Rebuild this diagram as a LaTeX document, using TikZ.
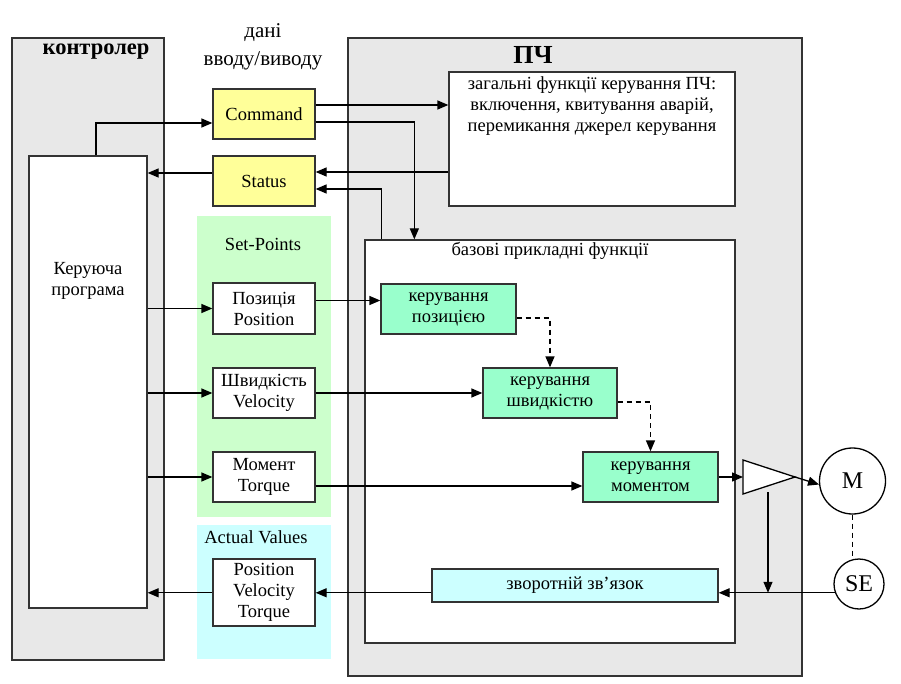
\documentclass[tikz,border=0pt]{standalone}
\usepackage{fontspec}
\setmainfont{Liberation Serif}
\usetikzlibrary{arrows.meta,calc}
\definecolor{panelgray}{HTML}{E8E8E8}
\definecolor{edgegray}{HTML}{333333}
\definecolor{ioyellow}{HTML}{FFFF99}
\definecolor{spgreen}{HTML}{CCFFCC}
\definecolor{avcyan}{HTML}{CCFFFF}
\definecolor{fnaqua}{HTML}{99FFCC}
\begin{document}
\begin{tikzpicture}[x=1pt,y=-1pt,
  every node/.style={font=\fontsize{18.5}{21}\selectfont},
  panel/.style={draw=edgegray,line width=1.3pt,fill=panelgray,inner sep=0},
  whitebox/.style={draw=edgegray,line width=1.3pt,fill=white,inner sep=0},
  iobox/.style={draw=edgegray,line width=1.3pt,fill=ioyellow,inner sep=0,align=center,minimum width=102pt,minimum height=50pt},
  spbox/.style={draw=edgegray,line width=1.3pt,fill=white,inner sep=0,align=center,minimum width=102pt,minimum height=50pt},
  fnbox/.style={draw=edgegray,line width=1.3pt,fill=fnaqua,inner sep=0,align=center,minimum width=135pt,minimum height=50pt},
  region/.style={fill=#1,draw=none,inner sep=0},
  arr/.style={line width=1.3pt,-{Triangle[length=11pt,width=9pt]}},
  dasharr/.style={line width=1.3pt,dash pattern=on 5pt off 4pt,-{Triangle[length=11pt,width=9pt]}},
  ln/.style={line width=1.3pt},
  motor/.style={circle,draw=black,line width=1.3pt,fill=white,inner sep=0,font=\fontsize{24}{26}\selectfont}
]
\useasboundingbox (0,0) rectangle (901,684);
\fill[white] (0,0) rectangle (901,684);

% panels
\node[panel,minimum width=152pt,minimum height=622pt] (ctrl) at (88,349) {};
\node[panel,minimum width=454pt,minimum height=638pt] (pch) at (575,357) {};
\node[font=\bfseries\fontsize{22.5}{26}\selectfont] (ctrlT) at (96,52) {контролер};
\node[font=\bfseries\fontsize{26}{29}\selectfont] (pchT) at (533,55) {ПЧ};
\node[align=center,font=\fontsize{21}{28}\selectfont] (ioT) at (263,47) {дані\\вводу/виводу};

% controller program
\node[whitebox,minimum width=118pt,minimum height=452pt] (prog) at (88,382) {};
\node[align=center] (progT) at (88,281) {Керуюча\\програма};

% colored regions
\node[region=spgreen,minimum width=134pt,minimum height=301pt] (spR) at (264,366.5) {};
\node[region=avcyan,minimum width=134pt,minimum height=134pt] (avR) at (264,592) {};
\node (spT) at (263,244) {Set-Points};
\node (avT) at (256,537) {Actual Values};

% IO boxes
\node[iobox] (cmd) at (264,114) {Command};
\node[iobox] (st) at (264,181) {Status};
\node[spbox,minimum height=51pt] (pos) at (264,308.5) {Позиція\\Position};
\node[spbox] (vel) at (264,393) {Швидкість\\Velocity};
\node[spbox] (trq) at (264,477) {Момент\\Torque};
\node[spbox,minimum height=67pt] (pvt) at (264,592.5) {Position\\Velocity\\Torque};

% inverter boxes
\node[whitebox,minimum width=286pt,minimum height=134pt] (gen) at (592,139) {};
\node[align=center] (genT) at (592,106) {загальні функції керування ПЧ:\\включення, квитування аварій,\\перемикання джерел керування};
\node[whitebox,minimum width=370pt,minimum height=403pt] (base) at (550,441.5) {};
\node (baseT) at (550,251) {базові прикладні функції};
\node[fnbox] (kpos) at (448.5,309) {керування\\позицією};
\node[fnbox,minimum width=134pt] (kvel) at (550,393) {керування\\швидкістю};
\node[fnbox] (kmom) at (650.5,477) {керування\\моментом};
\node[fnbox,fill=avcyan,minimum width=286pt,minimum height=33pt] (fb) at (575,585.5) {зворотній зв’язок};

% amplifier
\coordinate (triA) at (743,460);
\coordinate (triB) at (743,494);
\coordinate (tout) at (795,477);
\coordinate (tin) at (743,477);
\coordinate (tbot) at (768,492);
\draw[ln,fill=white] (triA) -- (triB) -- (tout) -- cycle;

% motor and sensor
\node[motor,minimum size=66pt] (M) at (852.5,481) {M};
\node[motor,minimum size=50pt] (SE) at (859,584) {SE};

% connectors
\draw[arr] ($(prog.north)+(8,0)$) |- ($(cmd.west)+(0,9)$);
\draw[arr] ($(cmd.east)+(0,-9)$) coordinate (c1) -- (c1 -| gen.west);
\draw[arr] ($(cmd.east)+(0,8)$) -| ($(base.north west)+(50,0)$);
\draw[arr] ($(gen.west)+(0,33)$) coordinate (c2) -- (c2 -| st.east);
\draw[arr] ($(base.north west)+(17,0)$) |- ($(st.east)+(0,8)$);
\draw[arr] ($(st.west)+(0,-8)$) coordinate (c3) -- (c3 -| prog.east);

\draw[arr] (pos.west -| prog.east) -- (pos.west);
\draw[arr] (vel.west -| prog.east) -- (vel.west);
\draw[arr] (trq.west -| prog.east) -- (trq.west);

\draw[arr] ($(pos.east)+(0,-8)$) coordinate (c4) -- (c4 -| kpos.west);
\draw[arr] (vel.east) -- (kvel.west);
\draw[arr] ($(trq.east)+(0,9)$) coordinate (c5) -- (c5 -| kmom.west);

\draw[dasharr] ($(kpos.east)+(0,9)$) -| (kvel.north);
\draw[dasharr] ($(kvel.east)+(0,9)$) -| (kmom.north);

\draw[arr] (tin -| kmom.east) -- (tin);
\draw[arr] (tout) -- (M.186);
\draw[ln,dash pattern=on 5pt off 4pt] (M.south) -- (M.south |- SE.north);

\draw[arr] (SE.200) coordinate (c6) -- (c6 -| fb.east);
\draw[arr] (tbot) -- (tbot |- c6);
\draw[arr] (c6 -| fb.west) -- (c6 -| pvt.east);
\draw[arr] (c6 -| pvt.west) -- (c6 -| prog.east);
\end{tikzpicture}
\end{document}
